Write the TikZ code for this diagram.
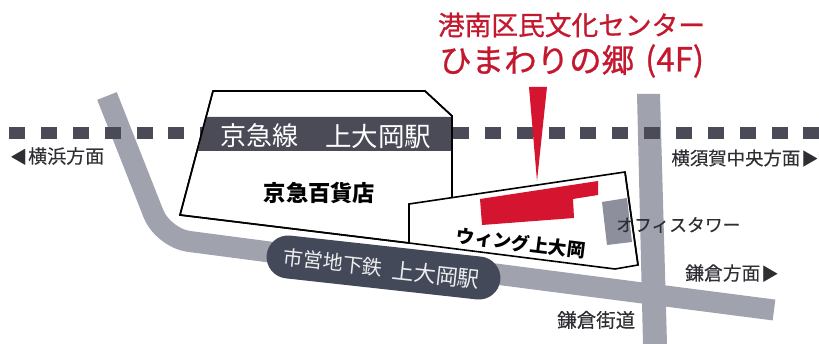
\documentclass[tikz,border=0pt]{standalone}
\usepackage{fontspec}
\setmainfont{Noto Sans CJK JP}
\newfontfamily\medfont[FakeBold=0.8]{Noto Sans CJK JP}
\newfontfamily\lblfont[FakeBold=0.2]{Noto Sans CJK JP}
\usetikzlibrary{shapes.misc}
\definecolor{roadgray}{HTML}{A0A2AE}
\definecolor{darkband}{HTML}{4A4B57}
\definecolor{pilldark}{HTML}{444959}
\definecolor{mapred}{HTML}{D5152F}
\definecolor{titlered}{HTML}{C4182F}
\definecolor{officegray}{HTML}{8D909C}
\definecolor{labelink}{HTML}{2E2E33}
\newcommand{\tri}[1]{{\fontsize{17}{17}\selectfont #1}}
\tikzset{
  road/.style={line width=21pt,draw=roadgray},
  railsq/.style={fill=darkband,draw=none},
  bldg/.style={fill=white,draw=black,line width=1.6pt,line join=miter},
  lbl/.style={inner sep=0pt,text=labelink,font=\lblfont\fontsize{#1}{#1}\selectfont},
  boldlbl/.style={inner sep=0pt,text=black,font=\bfseries\fontsize{#1}{#1}\selectfont},
  whitelbl/.style={inner sep=0pt,text=white,font=\fontsize{#1}{#1}\selectfont},
  titlelbl/.style={inner sep=0pt,text=titlered,font=\medfont\fontsize{#1}{#1}\selectfont},
}
\begin{document}
\begin{tikzpicture}[x=1pt,y=-1pt]
\useasboundingbox[fill=white] (0,0) rectangle (819,344);
% roads
\draw[road,rounded corners=26pt] (107,96) -- (163,238) -- (300,256);
\draw[road] (480,272) -- (774,310);
\fill[roadgray] (637,94) -- (660,94) -- (667,344) -- (643,344) -- cycle;
% rail squares
\foreach \x in {9,41,73,105,137,168,200,453,485,517,549,580,612,644,676,708,740,772,803}
  \fill[railsq] (\x,127) rectangle +(15.5,12);
% buildings
\path[bldg] (213,91) -- (425,91) -- (452,116) -- (452,215) -- (409,243) -- (180,215) -- cycle;
\fill[darkband] (206.5,117) -- (452.5,117) -- (452.5,151) -- (198,151) -- cycle;
\draw[black,line width=1.6pt] (213,91) -- (180,215) -- (409,243);
\draw[black,line width=1.6pt] (213,91) -- (425,91) -- (452,116) -- (452,200);
\path[bldg] (409,204) -- (625,172) -- (638,265) -- (615,269) -- (409,243) -- cycle;
\fill[mapred] (480,199) -- (598,181) -- (598,195) -- (573,199) -- (574,218) -- (482,225) -- cycle;
\fill[officegray] (602,202) -- (627,198) -- (632,242) -- (607,245) -- cycle;
\draw[black,line width=1.6pt] (625,172) -- (638,265);
% pointer
\fill[mapred] (529,87) -- (547,87) -- (537,181) -- cycle;
% subway pill
\node[rounded rectangle,fill=pilldark,minimum width=235pt,minimum height=43pt,inner sep=0pt,rotate=-6.3] (pill) at (383.5,267.5) {};
% labels
\node[titlelbl=26.7] (title) at (571.5,25) {港南区民文化センター};
\node[titlelbl=32.5,anchor=west] (name) at (439,60) {ひまわりの郷};
\node[titlelbl=33,anchor=west] (floor) at (645,61) {(4F)};
\node[whitelbl=26,anchor=west] (station) at (220,136) {京急線};
\node[whitelbl=26.5,anchor=west] (stationb) at (325,136) {上大岡駅};
\node[boldlbl=22.3] (dept) at (319.5,193) {京急百貨店};
\node[boldlbl=18.5,rotate=-7] (wing) at (521,243) {ウィング上大岡};
\node[whitelbl=20,rotate=-6.3,anchor=west,opacity=.9] (subw) at (283,257) {市営地下鉄};
\node[whitelbl=22,rotate=-6.3,anchor=west,opacity=.9] (subwb) at (392,270) {上大岡駅};
\node[lbl=19,anchor=west] (yoko) at (10,156) {\tri{◀}\hspace{1pt}横浜方面};
\node[lbl=18.4,anchor=east] (yoko2) at (818.5,158) {横須賀中央方面\hspace{1pt}\tri{▶}};
\node[lbl=17.8,anchor=west] (office) at (616,225) {オフィスタワー};
\node[lbl=18.8,anchor=west] (kama) at (685,273) {鎌倉方面\hspace{1pt}\tri{▶}};
\node[lbl=19.5,anchor=west] (kaido) at (557,320) {鎌倉街道};
\end{tikzpicture}
\end{document}
